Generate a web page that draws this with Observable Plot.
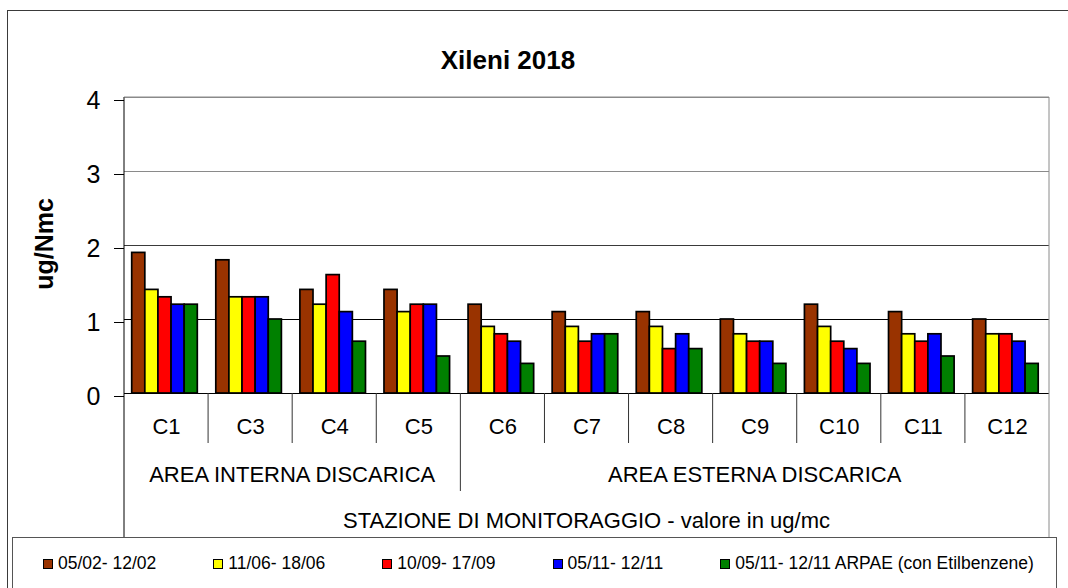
<!DOCTYPE html>
<html><head><meta charset="utf-8">
<script src="https://cdn.jsdelivr.net/npm/d3@7"></script>
<script src="https://cdn.jsdelivr.net/npm/@observablehq/plot@0.6"></script>
<style>
html,body{margin:0;padding:0;background:#fff;}
body{width:1068px;height:588px;overflow:hidden;font-family:"Liberation Sans",Arial,sans-serif;}
#wrap{position:relative;width:1068px;height:588px;overflow:hidden;}
#wrap svg{position:absolute;left:0;top:0;}
#frame{position:absolute;left:7px;top:10px;width:1200px;height:700px;border-left:1.5px solid #3a3a3a;border-top:1.5px solid #3a3a3a;pointer-events:none;}
#title{position:absolute;left:358px;top:47px;width:300px;text-align:center;font-weight:bold;font-size:26px;line-height:26px;color:#000;}
#ylab{position:absolute;left:44px;top:244px;transform:translate(-50%,-50%) rotate(-90deg);font-weight:bold;font-size:25px;line-height:25px;white-space:nowrap;color:#000;}
#legend{position:absolute;left:12px;top:537px;width:1045px;height:80px;border:1px solid #555;border-bottom:none;background:#fff;box-sizing:border-box;}
#legitems{position:absolute;left:30px;top:15px;display:flex;gap:57px;font-size:17.5px;line-height:20px;white-space:nowrap;color:#000;}
.sw{display:inline-block;width:10px;height:10px;box-sizing:border-box;border:1.2px solid #000;margin-right:5px;}
</style></head><body>
<div id="wrap"></div>
<script>
const titleText = "Xileni 2018";
const yLabelText = "ug/Nmc";
const xLabelText = "STAZIONE DI MONITORAGGIO - valore in ug/mc";
const stations = ["C1","C3","C4","C5","C6","C7","C8","C9","C10","C11","C12"];
const areaNames = ["AREA INTERNA DISCARICA","AREA ESTERNA DISCARICA"];
const areaOfStation = [0,0,0,0,1,1,1,1,1,1,1];
const seriesNames = ["05/02- 12/02","11/06- 18/06","10/09- 17/09","05/11- 12/11","05/11- 12/11 ARPAE (con Etilbenzene)"];
const seriesColors = ["#993300","#FFFF00","#FF0000","#0000FF","#008000"];
const s0502 = [1.9,1.8,1.4,1.4,1.2,1.1,1.1,1.0,1.2,1.1,1.0];
const s1106 = [1.4,1.3,1.2,1.1,0.9,0.9,0.9,0.8,0.9,0.8,0.8];
const s1009 = [1.3,1.3,1.6,1.2,0.8,0.7,0.6,0.7,0.7,0.7,0.8];
const s0511 = [1.2,1.3,1.1,1.2,0.7,0.8,0.8,0.7,0.6,0.8,0.7];
const sArpae = [1.2,1.0,0.7,0.5,0.4,0.8,0.6,0.4,0.4,0.5,0.4];
const yTicks = [0,1,2,3,4];

const seriesValues = [s0502,s1106,s1009,s0511,sArpae];
const rows = stations.flatMap((st,i)=>seriesNames.map((sn,j)=>({station:st, series:sn, value:seriesValues[j][i]})));

const W = 1068, H = 588, mL = 124, mR = 19, mT = 97, mB = 195;
const step = (W - mL - mR) / stations.length;
const barW = step * 0.156;
const padL = step * 0.0916;

const chart = Plot.plot({
  width: W, height: H,
  marginLeft: mL, marginRight: mR, marginTop: mT, marginBottom: mB,
  style: {fontFamily: '"Liberation Sans", Arial, sans-serif', background: "transparent", color: "#000", overflow: "visible"},
  x: {domain: stations, padding: 0, round: false, label: null},
  y: {domain: [0, 4], label: null},
  color: {domain: seriesNames, range: seriesColors},
  marks: [
    Plot.ruleY(yTicks.filter(t => t > 0), {stroke: d => d >= 3 ? "#8a8a8a" : (d === 2 ? "#3a3a3a" : "#000"), strokeWidth: 1}),
    ...seriesNames.map((name, j) => Plot.barY(rows.filter(r => r.series === name), {
      x: "station", y: "value", fill: "series", stroke: "#000", strokeWidth: 1.7,
      insetLeft: padL + j * barW, insetRight: step - padL - (j + 1) * barW
    })),
    Plot.ruleY([0], {stroke: "#000", strokeWidth: 1}),
    Plot.axisY({ticks: yTicks, tickSize: 10, tickPadding: 14, fontSize: 25, label: null, dy: 3, tickFormat: d => String(d)}),
    Plot.axisX({tickSize: 0, tickPadding: 25, fontSize: 22, label: null})
  ]
});

const wrap = document.getElementById("wrap");
wrap.appendChild(chart);

// decorations drawn from the chart's own scales
const sx = chart.scale("x"), sy = chart.scale("y");
const [r0, r1] = sx.range;
const stp = (r1 - r0) / sx.domain.length;
const y0 = sy.apply(0), yTop = sy.apply(4);
const yCatBottom = y0 + 50, yAreaBottom = y0 + 98, yLegendTop = 537;
const svg = d3.select(chart);
const g = svg.append("g");
g.append("line").attr("x1", r0).attr("x2", r0).attr("y1", yTop).attr("y2", yLegendTop).attr("stroke", "#000");
g.append("line").attr("x1", r1).attr("x2", r1).attr("y1", yTop).attr("y2", yLegendTop).attr("stroke", "#8a8a8a");
g.append("line").attr("x1", r0).attr("x2", r1).attr("y1", yTop).attr("y2", yTop).attr("stroke", "#8a8a8a");
for (let k = 1; k < stations.length; k++) {
  const xb = r0 + k * stp;
  const groupBreak = areaOfStation[k] !== areaOfStation[k - 1];
  g.append("line").attr("x1", xb).attr("x2", xb).attr("y1", y0).attr("y2", groupBreak ? yAreaBottom : yCatBottom).attr("stroke", "#333");
}
areaNames.forEach((name, a) => {
  const idx = areaOfStation.map((v, i) => v === a ? i : -1).filter(i => i >= 0);
  const xa = r0 + idx[0] * stp, xb = r0 + (idx[idx.length - 1] + 1) * stp;
  g.append("text").attr("x", (xa + xb) / 2).attr("y", y0 + 89).attr("text-anchor", "middle")
    .attr("font-size", 22).attr("fill", "#000").text(name);
});
g.append("text").attr("x", (r0 + r1) / 2).attr("y", y0 + 135).attr("text-anchor", "middle")
  .attr("font-size", 22).attr("fill", "#000").text(xLabelText);

const frame = document.createElement("div"); frame.id = "frame"; wrap.appendChild(frame);
const t = document.createElement("div"); t.id = "title"; t.textContent = titleText; wrap.appendChild(t);
const yl = document.createElement("div"); yl.id = "ylab"; yl.textContent = yLabelText; wrap.appendChild(yl);
const leg = document.createElement("div"); leg.id = "legend";
const items = document.createElement("div"); items.id = "legitems";
seriesNames.forEach((name, j) => {
  const it = document.createElement("span");
  const sw = document.createElement("span"); sw.className = "sw"; sw.style.background = seriesColors[j];
  it.appendChild(sw); it.appendChild(document.createTextNode(name));
  items.appendChild(it);
});
leg.appendChild(items); wrap.appendChild(leg);
</script>
</body></html>
